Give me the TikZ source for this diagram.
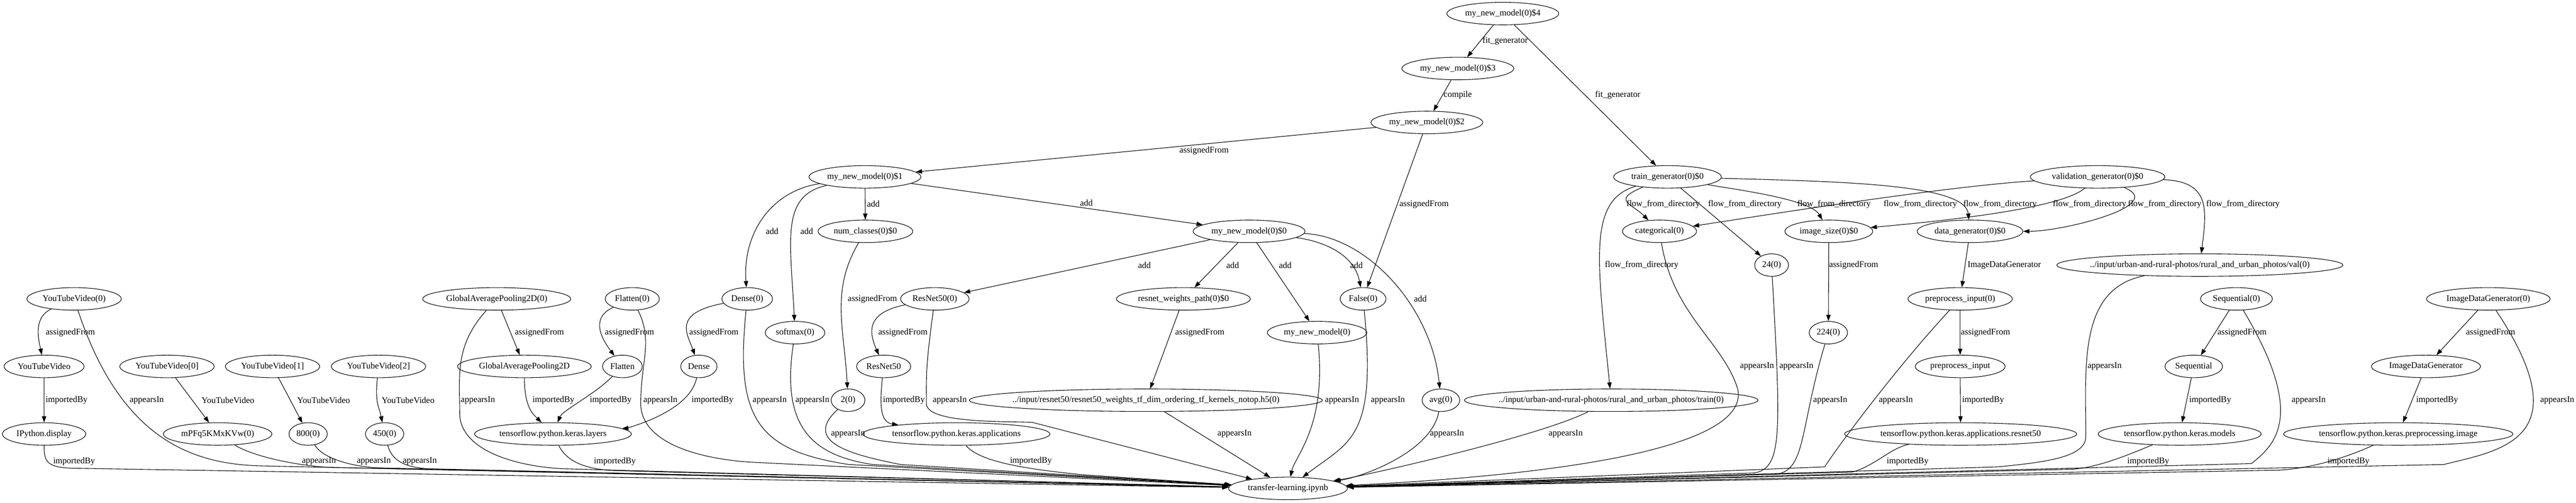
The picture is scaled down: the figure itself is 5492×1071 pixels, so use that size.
\documentclass[tikz,border=0pt]{standalone}
\usepackage{fontspec}
\setmainfont{Liberation Serif}
\usepackage{tikz}
\usetikzlibrary{shapes.geometric, arrows.meta}

\begin{document}
\begin{tikzpicture}[x = 0.75pt, y = -0.75pt,
	font = \fontsize{14}{16}\selectfont,
	obj/.style = {draw, ellipse, line width = 0.9pt, minimum width = 54pt, minimum height = 36pt, inner xsep = 3pt, inner ysep = 0pt},
	longobj/.style = {obj, inner xsep = -14pt},
	lbl/.style = {inner sep = 0pt},
	conn/.style = {line width = 0.9pt, -{Triangle[length = 10pt, width = 7pt]}}]
	 \useasboundingbox (0, 0) rectangle (5492, 1071);

	 \node[obj] (m4) at (3204, 29) {my\_new\_model(0)\$4};
	 \node[obj] (m3) at (3108, 146) {my\_new\_model(0)\$3};
	 \node[obj] (m2) at (3042, 261) {my\_new\_model(0)\$2};
	 \node[obj] (m1) at (1844, 377) {my\_new\_model(0)\$1};
	 \node[obj] (tg) at (3555, 377) {train\_generator(0)\$0};
	 \node[obj] (vg) at (4472, 377) {validation\_generator(0)\$0};

	 \node[obj] (nc) at (1845, 493) {num\_classes(0)\$0};
	 \node[obj] (m0) at (2663, 493) {my\_new\_model(0)\$0};
	 \node[obj] (cat) at (3538, 493) {categorical(0)};
	 \node[obj] (isz) at (3899, 493) {image\_size(0)\$0};
	 \node[obj] (dg) at (4200, 493) {data\_generator(0)\$0};
	 \node[obj] (n24) at (3777, 565) {24(0)};
	 \node[longobj] (val) at (4690, 565) {../input/urban-and-rural-photos/rural\_and\_urban\_photos/val(0)};

	 \node[obj] (yt0) at (158, 637) {YouTubeVideo(0)};
	 \node[obj] (gap0) at (1059, 637) {GlobalAveragePooling2D(0)};
	 \node[obj] (fl0) at (1348, 637) {Flatten(0)};
	 \node[obj] (de0) at (1593, 637) {Dense(0)};
	 \node[obj] (rn0) at (1993, 637) {ResNet50(0)};
	 \node[obj] (rwp) at (2523, 637) {resnet\_weights\_path(0)\$0};
	 \node[obj] (fa) at (2906, 637) {False(0)};
	 \node[obj] (pi0) at (4179, 637) {preprocess\_input(0)};
	 \node[obj] (sq0) at (4768, 637) {Sequential(0)};
	 \node[obj] (idg0) at (5305, 637) {ImageDataGenerator(0)};

	 \node[obj] (sm) at (1695, 709) {softmax(0)};
	 \node[obj] (mnm) at (2808, 709) {my\_new\_model(0)};
	 \node[obj] (n224) at (3898, 709) {224(0)};

	 \node[obj] (yt) at (94, 781) {YouTubeVideo};
	 \node[obj] (yta) at (356, 781) {YouTubeVideo[0]};
	 \node[obj] (ytb) at (581, 781) {YouTubeVideo[1]};
	 \node[obj] (ytc) at (807, 781) {YouTubeVideo[2]};
	 \node[obj] (gap) at (1118, 781) {GlobalAveragePooling2D};
	 \node[obj] (fl) at (1327, 781) {Flatten};
	 \node[obj] (de) at (1490, 781) {Dense};
	 \node[obj] (rn) at (1884, 781) {ResNet50};
	 \node[obj] (pi) at (4179, 781) {preprocess\_input};
	 \node[obj] (sq) at (4677, 781) {Sequential};
	 \node[obj] (idg) at (5172, 781) {ImageDataGenerator};

	 \node[obj] (n2) at (1808, 853) {2(0)};
	 \node[longobj] (h5) at (2443, 853) {../input/resnet50/resnet50\_weights\_tf\_dim\_ordering\_tf\_kernels\_notop.h5(0)};
	 \node[obj] (avg) at (3072, 853) {avg(0)};
	 \node[longobj] (tr) at (3435, 853) {../input/urban-and-rural-photos/rural\_and\_urban\_photos/train(0)};

	 \node[obj] (ipy) at (94, 925) {IPython.display};
	 \node[obj] (mpf) at (464, 925) {mPFq5KMxKVw(0)};
	 \node[obj] (n800) at (657, 925) {800(0)};
	 \node[obj] (n450) at (820, 925) {450(0)};
	 \node[obj] (tfl) at (1179, 925) {tensorflow.python.keras.layers};
	 \node[obj] (tfa) at (2039, 925) {tensorflow.python.keras.applications};
	 \node[obj] (tfr) at (4180, 925) {tensorflow.python.keras.applications.resnet50};
	 \node[obj] (tfm) at (4647, 925) {tensorflow.python.keras.models};
	 \node[obj] (tfp) at (5113, 925) {tensorflow.python.keras.preprocessing.image};

	 \node[obj] (tl) at (2746, 1041) {transfer-learning.ipynb};

	 \draw[conn] (m4) -- (m3) node[lbl] (l1) at (3209, 87) {fit\_generator};
	 \draw[conn] (m4) -- (tg) node[lbl] (l2) at (3449, 203) {fit\_generator};
	 \draw[conn] (m3) -- (m2) node[lbl] (l3) at (3108, 203) {compile};
	 \draw[conn] (m2) -- (m1) node[lbl] (l4) at (2567, 321) {assignedFrom};
	 \draw[conn] (m2) -- (fa) node[lbl] (l5) at (3036, 435) {assignedFrom};

	 \draw[conn] (m1) .. controls +(-200, 30) and +(-10, -140) .. (de0) node[lbl] (l6) at (1646, 493) {add};
	 \draw[conn] (m1) .. controls +(-180, 40) and +(-10, -200) .. (sm) node[lbl] (l7) at (1720, 493) {add};
	 \draw[conn] (m1) -- (nc) node[lbl] (l8) at (1862, 435) {add};
	 \draw[conn] (m1) -- (m0) node[lbl] (l9) at (2316, 432) {add};
	 \draw[conn] (m0) -- (rn0) node[lbl] (l10) at (2440, 565) {add};
	 \draw[conn] (m0) -- (rwp) node[lbl] (l11) at (2628, 565) {add};
	 \draw[conn] (m0) -- (mnm) node[lbl] (l12) at (2740, 565) {add};
	 \draw[conn] (m0) .. controls +(150, 20) and +(-20, -100) .. (fa) node[lbl] (l13) at (2892, 565) {add};
	 \draw[conn] (m0) .. controls +(250, 10) and +(-20, -200) .. (avg) node[lbl] (l14) at (3028, 637) {add};

	 \draw[conn] (tg) .. controls +(-120, 50) and +(-60, -60) .. (cat) node[lbl] (l15) at (3546, 435) {flow\_from\_directory};
	 \draw[conn] (tg) -- (n24) node[lbl] (l16) at (3720, 435) {flow\_from\_directory};
	 \draw[conn] (tg) .. controls +(130, 25) and +(-40, -70) .. (isz) node[lbl] (l17) at (3910, 435) {flow\_from\_directory};
	 \draw[conn] (tg) .. controls +(380, 10) and +(-10, -100) .. (dg) node[lbl] (l18) at (4264, 435) {flow\_from\_directory};
	 \draw[conn] (tg) .. controls +(-170, 50) and +(-30, -300) .. (tr) node[lbl] (l19) at (3500, 565) {flow\_from\_directory};
	 \draw[conn] (vg) .. controls +(-320, 20) and +(260, -40) .. (cat) node[lbl] (l20) at (4094, 435) {flow\_from\_directory};
	 \draw[conn] (vg) .. controls +(-80, 70) and +(220, -20) .. (isz) node[lbl] (l21) at (4455, 435) {flow\_from\_directory};
	 \draw[conn] (vg) .. controls +(150, 60) and +(200, 0) .. (dg) node[lbl] (l22) at (4615, 435) {flow\_from\_directory};
	 \draw[conn] (vg) .. controls +(240, 10) and +(15, -120) .. (val) node[lbl] (l23) at (4782, 435) {flow\_from\_directory};

	 \draw[conn] (nc) .. controls +(-75, 127) and +(-8, -153) .. (n2) node[lbl] (l24) at (1860, 637) {assignedFrom};
	 \draw[conn] (isz) -- (n224) node[lbl] (l25) at (3952, 565) {assignedFrom};
	 \draw[conn] (dg) -- (pi0) node[lbl] (l26) at (4273, 565) {ImageDataGenerator};
	 \draw[conn] (rwp) -- (h5) node[lbl] (l27) at (2558, 709) {assignedFrom};
	 \draw[conn] (yt0) .. controls +(-90, 40) and +(-10, -50) .. (yt) node[lbl] (l28) at (150, 709) {assignedFrom};
	 \draw[conn] (gap0) -- (gap) node[lbl] (l29) at (1150, 709) {assignedFrom};
	 \draw[conn] (fl0) .. controls +(-90, 40) and +(-45, -60) .. (fl) node[lbl] (l30) at (1342, 709) {assignedFrom};
	 \draw[conn] (de0) .. controls +(-160, 30) and +(-25, -70) .. (de) node[lbl] (l31) at (1522, 709) {assignedFrom};
	 \draw[conn] (rn0) .. controls +(-150, 30) and +(-30, -70) .. (rn) node[lbl] (l32) at (1925, 709) {assignedFrom};
	 \draw[conn] (pi0) -- (pi) node[lbl] (l33) at (4233, 709) {assignedFrom};
	 \draw[conn] (sq0) -- (sq) node[lbl] (l34) at (4780, 709) {assignedFrom};
	 \draw[conn] (idg0) -- (idg) node[lbl] (l35) at (5310, 709) {assignedFrom};

	 \draw[conn] (yta) -- (mpf) node[lbl] (l36) at (486, 853) {YouTubeVideo};
	 \draw[conn] (ytb) -- (n800) node[lbl] (l37) at (690, 853) {YouTubeVideo};
	 \draw[conn] (ytc) .. controls +(-8, 80) and +(-12, -60) .. (n450) node[lbl] (l38) at (870, 853) {YouTubeVideo};
	 \draw[conn] (yt) -- (ipy) node[lbl] (l39) at (142, 853) {importedBy};
	 \draw[conn] (gap) .. controls +(0, 90) and +(-40, -40) .. (tfl) node[lbl] (l40) at (1180, 853) {importedBy};
	 \draw[conn] (fl) .. controls +(-60, 60) and +(20, -50) .. (tfl) node[lbl] (l41) at (1302, 853) {importedBy};
	 \draw[conn] (de) .. controls +(-20, 100) and +(150, -12) .. (tfl) node[lbl] (l42) at (1519, 853) {importedBy};
	 \draw[conn] (rn) .. controls +(-10, 90) and +(-160, -25) .. (tfa) node[lbl] (l43) at (1927, 853) {importedBy};
	 \draw[conn] (pi) -- (tfr) node[lbl] (l44) at (4228, 853) {importedBy};
	 \draw[conn] (sq) -- (tfm) node[lbl] (l45) at (4712, 853) {importedBy};
	 \draw[conn] (idg) -- (tfp) node[lbl] (l46) at (5196, 853) {importedBy};

	 \draw[conn] (ipy) .. controls +(0, 60) and +(-60, -1) .. (160, 998) -- (tl) node[lbl] (l47) at (158, 983) {importedBy};
	 \draw[conn] (tfl) .. controls +(30, 60) and +(-60, -3) .. (1310, 1003) -- (tl) node[lbl] (l48) at (1311, 983) {importedBy};
	 \draw[conn] (tfa) .. controls +(50, 60) and +(-120, -12) .. (2310, 1012) -- (tl) node[lbl] (l49) at (2198, 982) {importedBy};
	 \draw[conn] (tfr) .. controls +(-150, 30) and +(50, -15) .. (3950, 1006) -- (tl) node[lbl] (l50) at (4067, 983) {importedBy};
	 \draw[conn] (tfm) .. controls +(-100, 40) and +(60, -5) .. (4420, 1000) -- (tl) node[lbl] (l51) at (4580, 983) {importedBy};
	 \draw[conn] (tfp) .. controls +(-100, 45) and +(80, -5) .. (4860, 1002) -- (tl) node[lbl] (l52) at (5007, 983) {importedBy};

	 \draw[conn] (yt0) .. controls +(100, 300) and +(-150, -3) .. (560, 993) -- (tl) node[lbl] (l53) at (313, 853) {appearsIn};
	 \draw[conn] (mpf) .. controls +(70, 45) and +(-80, -5) .. (700, 996) -- (tl) node[lbl] (l54) at (680, 983) {appearsIn};
	 \draw[conn] (n800) .. controls +(30, 50) and +(-60, -5) .. (800, 997) -- (tl) node[lbl] (l55) at (797, 983) {appearsIn};
	 \draw[conn] (n450) .. controls +(15, 55) and +(-50, -4) .. (910, 999) -- (tl) node[lbl] (l56) at (895, 983) {appearsIn};
	 \draw[conn] (gap0) .. controls +(-90, 100) and +(0, -80) .. (980, 880) .. controls +(0, 80) and +(-100, -5) .. (1200, 999) -- (tl) node[lbl] (l57) at (1019, 853) {appearsIn};
	 \draw[conn] (fl0) .. controls +(45, 90) and +(0, -90) .. (1366, 860) .. controls +(0, 80) and +(-120, -8) .. (1600, 985) -- (tl) node[lbl] (l58) at (1408, 853) {appearsIn};
	 \draw[conn] (de0) .. controls +(-25, 250) and +(-200, -30) .. (1810, 990) -- (tl) node[lbl] (l59) at (1641, 853) {appearsIn};
	 \draw[conn] (sm) .. controls +(-30, 200) and +(-130, -20) .. (1860, 990) -- (tl) node[lbl] (l60) at (1732, 853) {appearsIn};
	 \draw[conn] (n2) .. controls +(-100, 90) and +(-100, -20) .. (1920, 990) -- (tl) node[lbl] (l61) at (1808, 925) {appearsIn};
	 \draw[conn] (rn0) .. controls +(-20, 150) and +(0, -60) .. (1975, 860) .. controls +(0, 40) and +(-80, -2) .. (2200, 900) -- (tl) node[lbl] (l62) at (2025, 853) {appearsIn};
	 \draw[conn] (h5) -- (tl) node[lbl] (l63) at (2632, 925) {appearsIn};
	 \draw[conn] (mnm) .. controls +(20, 200) and +(15, -70) .. (tl) node[lbl] (l64) at (2861, 853) {appearsIn};
	 \draw[conn] (fa) .. controls +(30, 300) and +(130, -100) .. (tl) node[lbl] (l65) at (2959, 853) {appearsIn};
	 \draw[conn] (avg) .. controls +(-20, 110) and +(160, -25) .. (tl) node[lbl] (l66) at (3085, 925) {appearsIn};
	 \draw[conn] (tr) .. controls +(-160, 80) and +(150, -25) .. (tl) node[lbl] (l67) at (3338, 925) {appearsIn};
	 \draw[conn] (cat) .. controls +(30, 180) and +(-30, -100) .. (3705, 830) .. controls +(30, 150) and +(400, -20) .. (tl) node[lbl] (l68) at (3746, 781) {appearsIn};
	 \draw[conn] (n24) .. controls +(20, 360) and +(60, -10) .. (3740, 1008) -- (tl) node[lbl] (l69) at (3830, 781) {appearsIn};
	 \draw[conn] (n224) .. controls +(-60, 200) and +(60, -10) .. (3790, 1010) -- (tl) node[lbl] (l70) at (3902, 853) {appearsIn};
	 \draw[conn] (pi0) .. controls +(-130, 140) and +(40, -60) .. (3890, 995) -- (tl) node[lbl] (l71) at (4042, 853) {appearsIn};
	 \draw[conn] (val) .. controls +(-260, 50) and +(0, -150) .. (4447, 930) .. controls +(0, 45) and +(100, -10) .. (4260, 995) -- (tl) node[lbl] (l72) at (4487, 781) {appearsIn};
	 \draw[conn] (sq0) .. controls +(150, 250) and +(50, -40) .. (4800, 988) -- (tl) node[lbl] (l73) at (4922, 853) {appearsIn};
	 \draw[conn] (idg0) .. controls +(200, 300) and +(120, -30) .. (5210, 990) -- (tl) node[lbl] (l74) at (5452, 853) {appearsIn};
\end{tikzpicture}
\end{document}
